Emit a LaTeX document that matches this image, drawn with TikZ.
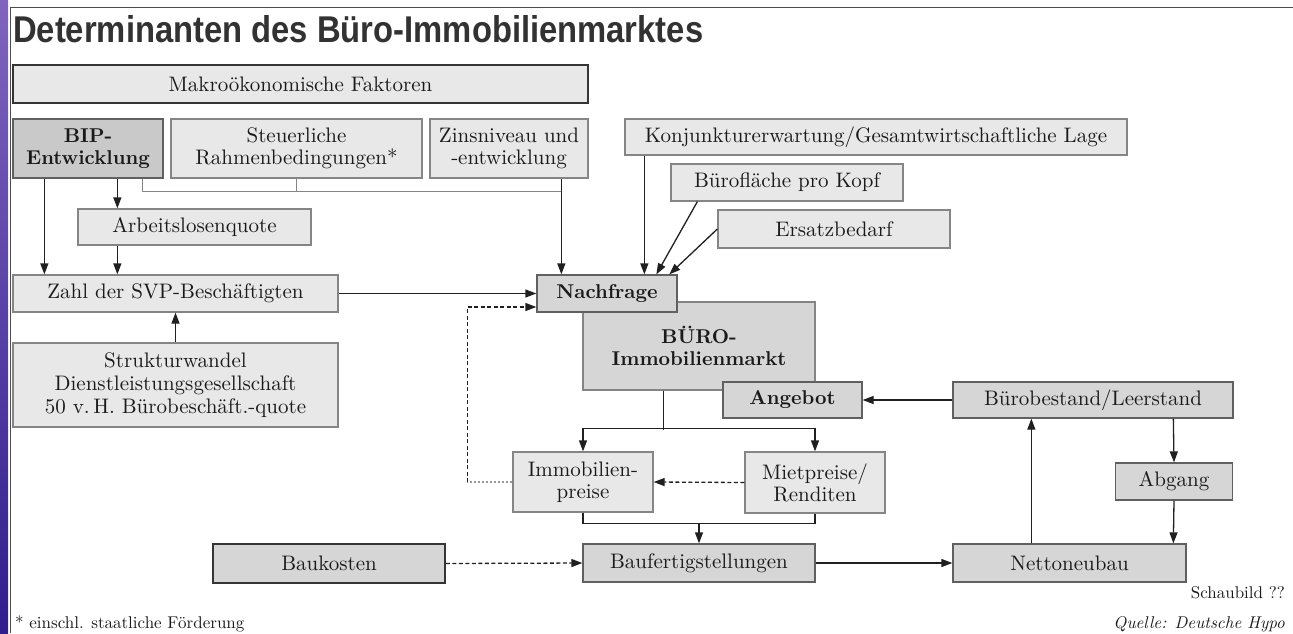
\documentclass[tikz,border=0pt]{standalone}
\usepackage{fontspec}
\setmainfont{lmroman10-regular.otf}[BoldFont=lmroman10-bold.otf, ItalicFont=lmroman10-italic.otf]
\newfontfamily\titlefont{Liberation Sans}
\usetikzlibrary{arrows.meta,calc}
\definecolor{txtc}{HTML}{1A1A1A}
\definecolor{lightc}{HTML}{E8E8E8}
\definecolor{midc}{HTML}{D6D6D6}
\definecolor{darkc}{HTML}{C9C9C9}
\definecolor{bordl}{HTML}{858585}
\definecolor{bordm}{HTML}{606060}
\definecolor{bordd}{HTML}{353535}
\definecolor{arrc}{HTML}{202020}
\begin{document}
\begin{tikzpicture}[x=1pt,y=-1pt,
  box/.style={draw=bordl, line width=1.3pt, fill=lightc, inner sep=0pt, align=center,
    font=\fontsize{21}{22}\selectfont, text=txtc},
  mbox/.style={box, fill=midc, draw=bordm},
  dbox/.style={box, fill=darkc, draw=bordm},
  bbox/.style={font=\fontsize{20}{22}\selectfont\bfseries},
  arr/.style={draw=arrc, line width=1.3pt, -{Triangle[length=11pt,width=8pt]}},
  ln/.style={draw=arrc, line width=1.3pt},
  gln/.style={draw=bordl, line width=1.3pt},
  darr/.style={arr, dash pattern=on 4pt off 2.5pt},
  small/.style={inner sep=0pt, text=txtc, font=\fontsize{17}{19}\selectfont}
]
\useasboundingbox (0,0) rectangle (1293,633);
% frame
\shade[top color={rgb,255:red,128;green,100;blue,190}, bottom color={rgb,255:red,48;green,30;blue,140}] (0,0) rectangle (8,633);
\draw[draw=black!70, line width=1pt] (10,633) -- (10,7.5) -- (1293,7.5);
% title
\node[anchor=base west, inner sep=0pt, text={rgb,255:red,50;green,50;blue,50}] (title) at (13,42)
  {\resizebox{690pt}{27pt}{\titlefont\bfseries Determinanten des Büro-Immobilienmarktes}};
% boxes
\node[box, draw=bordd, line width=1.8pt, minimum width=575, minimum height=38] (makro) at (300.5,84) {Makroökonomische Faktoren};
\node[dbox, bbox, minimum width=150, minimum height=59] (bip) at (88,148.5) {BIP-\\Entwicklung};
\node[box, minimum width=251, minimum height=59] (steuer) at (296.5,148.5) {Steuerliche\\Rahmenbedingungen*};
\node[box, minimum width=158, minimum height=59] (zins) at (509,148.5) {Zinsniveau und\\-entwicklung};
\node[box, minimum width=502, minimum height=36] (konj) at (876,137) {Konjunkturerwartung/Gesamtwirtschaftliche Lage};
\node[box, minimum width=232, minimum height=37] (flaeche) at (787,182.5) {Bürofläche pro Kopf};
\node[box, minimum width=232, minimum height=38] (ersatz) at (834,229) {Ersatzbedarf};
\node[box, minimum width=233, minimum height=36] (arbeit) at (194.5,227) {Arbeitslosenquote};
\node[box, minimum width=325, minimum height=37] (zahl) at (175.5,293.5) {Zahl der SVP-Beschäftigten};
\node[box, minimum width=325, minimum height=84, font=\fontsize{21}{23}\selectfont] (struktur) at (175.5,385)
  {Strukturwandel\\Dienstleistungsgesellschaft\\50 v.\,H. Bürobeschäft.-quote};
\node[mbox, bbox, minimum width=232, minimum height=88, draw=bordl] (markt) at (699,346) {BÜRO-\\Immobilienmarkt};
\node[mbox, bbox, minimum width=140, minimum height=37] (nachfrage) at (607,293.5) {Nachfrage};
\node[mbox, bbox, minimum width=139, minimum height=36] (angebot) at (792.5,400) {Angebot};
\node[mbox, minimum width=280, minimum height=36] (bestand) at (1093,400) {Bürobestand/Leerstand};
\node[box, minimum width=140, minimum height=60] (immo) at (583,482) {Immobilien-\\preise};
\node[box, minimum width=140, minimum height=61] (miet) at (815,482.5) {Mietpreise/\\Renditen};
\node[mbox, minimum width=117, minimum height=37] (abgang) at (1174,481.5) {Abgang};
\node[mbox, draw=bordd, line width=1.8pt, minimum width=232, minimum height=39] (baukosten) at (329,563.5) {Baukosten};
\node[mbox, minimum width=232, minimum height=38] (baufertig) at (699,563) {Baufertigstellungen};
\node[mbox, minimum width=233, minimum height=38] (netto) at (1069.5,563) {Nettoneubau};
% notes
\node[small, anchor=base east] (schau) at (1285,598) {Schaubild ??};
\node[small, anchor=base east, font=\fontsize{17}{19}\selectfont\itshape] (quelle) at (1285,628) {Quelle: Deutsche Hypo};
\node[small, anchor=base west] (fuss) at (15,628) {* einschl. staatliche Förderung};
% helper coordinates
\coordinate (brA) at ($(bip.south west)+(130,13)$);
\coordinate (brS) at ($(steuer.south)+(0,13)$);
\coordinate (brZ) at ($(zins.south west)+(132,13)$);
\coordinate (fb1) at ($(immo.west)+(-45,0)$);
\coordinate (fb2) at ($(nachfrage.west)+(-69,13.5)$);
\coordinate (sp) at ($(markt.south west)+(81,39)$);
\coordinate (spL) at ($(immo.north)+(0,-23)$);
\coordinate (spR) at ($(miet.north)+(0,-23)$);
\coordinate (bkL) at ($(immo.south)+(0,11)$);
\coordinate (bkR) at ($(miet.south)+(0,10)$);
% connectors left
\draw[arr] ([xshift=32]bip.south west) -- ([xshift=32]zahl.north west);
\draw[arr] ([xshift=105]bip.south west) -- ([xshift=40]arbeit.north west);
\draw[arr] ([xshift=40]arbeit.south west) -- ([xshift=105]zahl.north west);
\draw[arr] (struktur.north) -- (zahl.south);
\draw[arr] (zahl.east) -- (nachfrage.west);
\draw[gln] ([xshift=130]bip.south west) -- (brA) -- (brZ);
\draw[gln] (steuer.south) -- (brS);
\draw[arr] ([xshift=132]zins.south west) -- ([xshift=25]nachfrage.north west);
% demand inputs
\draw[arr] ([xshift=20]konj.south west) -- ([xshift=108]nachfrage.north west);
\draw[arr] ([xshift=27]flaeche.south west) -- ([xshift=120]nachfrage.north west);
\draw[arr] (ersatz.west) -- ([xshift=133]nachfrage.north west);
% feedback
\draw[draw=black!40, line width=1.1pt, dash pattern=on 2pt off 2pt] (immo.west) -- (fb1);
\draw[darr] (fb1) -- (fb2) -- ([yshift=-13.5]nachfrage.west);
% market split
\draw[ln] ([xshift=81]markt.south west) -- (sp);
\draw[ln] (spL) -- (spR);
\draw[arr] (spL) -- (immo.north);
\draw[arr] (spR) -- (miet.north);
\draw[darr] (miet.west) -- (immo.east);
\draw[ln] (immo.south) -- (bkL) -- (bkR) -- (miet.south);
\draw[arr] ($(bkL)!0.5!(bkR)$) -- (baufertig.north);
% bottom
\draw[darr] (baukosten.east) -- (baufertig.west);
\draw[arr] (baufertig.east) -- (netto.west);
\draw[arr] ([xshift=79]netto.north west) -- ([xshift=79]bestand.south west);
\draw[arr] (bestand.west) -- (angebot.east);
\draw[arr] ([xshift=221]bestand.south west) -- (abgang.north);
\draw[arr] (abgang.south) -- ([xshift=221]netto.north west);
\end{tikzpicture}
\end{document}
